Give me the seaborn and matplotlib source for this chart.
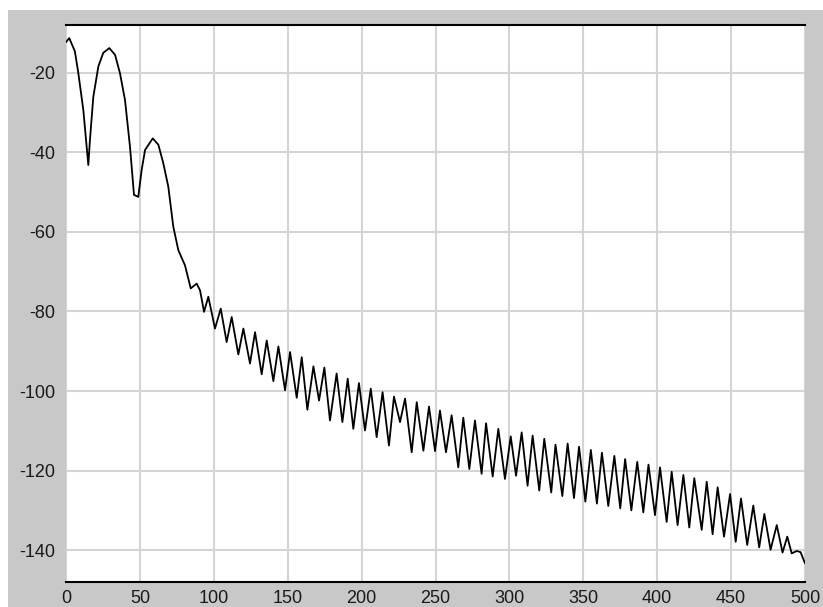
import matplotlib
matplotlib.use("Agg")
import matplotlib.pyplot as plt
import seaborn as sns
from matplotlib.patches import Rectangle

# ---- data ----
x_vals = [0, 2.2, 6, 8.3, 11.7, 14, 15.1, 16.2, 18.5, 21.9, 25.2, 29.3, 33.2, 36.5, 39.9,
          43.3, 46, 48.9, 51.2, 53.5, 58.7, 62.5, 65.8, 69.2, 72.6, 76, 80.5, 84.4, 88.4,
          90.7, 93.4, 96.3, 100.8, 104.7, 108.7, 112.1, 116.6, 120, 124.5, 127.9, 132.4,
          135.8, 140.3, 143.7, 148.2, 151.6, 156.1, 159.5, 163.3, 167.4, 171.2, 174.8,
          178.6, 183.1, 187, 190.6, 194.4, 198.2, 202.3, 206.2, 210.2, 214.2, 218.5, 221.9,
          226, 229.4, 233.9, 237.3, 241.8, 245.6, 249.7, 253, 257.1, 260.9, 265.4, 268.8,
          272.9, 276.7, 281.2, 284.2, 288.7, 292.5, 297, 300.9, 304.5, 308.3, 312.3, 315.7,
          320.2, 323.6, 328.3, 331.2, 335.8, 339.4, 343.7, 347.1, 351.4, 355.1, 359.2,
          362.6, 366.9, 371, 375, 378.3, 382.5, 386.5, 390.6, 394.1, 398.5, 401.9, 406.4,
          409.8, 413.8, 417.7, 421.7, 425.1, 430.1, 433.5, 437.5, 440.9, 445.2, 449.3,
          453.1, 456.7, 460.9, 465, 469, 472.5, 476.7, 480.9, 484.8, 488, 491, 494.4,
          497, 500]
y_vals = [-12.3, -11.3, -14.6, -20, -29.3, -38.6, -43.2, -36.9, -26, -18.4, -15, -13.8,
          -15.5, -20.1, -26.8, -38.6, -50.7, -51.2, -44.4, -39.4, -36.5, -38.1, -42.7,
          -48.6, -58.7, -64.6, -68.4, -74.2, -73, -74.7, -80.1, -76.3, -84.3, -79.3,
          -87.7, -81.4, -90.8, -84.3, -93.1, -85.2, -95.8, -87.3, -97.5, -88.8, -99.8,
          -90.2, -101.7, -91.5, -104.7, -93.8, -102.4, -94.1, -107.4, -95.6, -107.8,
          -96.9, -109.5, -98, -109.9, -99.4, -111.6, -100.3, -113.7, -101.4, -107.8,
          -101.9, -115.4, -102.8, -115, -103.9, -115.1, -104.9, -115.4, -106.1, -119.2,
          -106.7, -119.6, -107.4, -120.8, -108.1, -121.5, -109.5, -122.1, -111.4, -121.3,
          -110.4, -123.8, -111.2, -125, -112, -125.5, -113.5, -126.4, -113.2, -126.9,
          -114, -127.8, -114.8, -128.3, -115.5, -128.9, -116.3, -129.5, -117.1, -130,
          -117.8, -130.5, -118.5, -131.2, -119.2, -132.9, -120.3, -133.7, -121.1, -134.3,
          -121.9, -134.9, -122.8, -136, -124.2, -136.6, -125.9, -137.9, -127, -138.7,
          -128.8, -139.3, -130.9, -139.9, -133.7, -140.6, -136.6, -140.8, -140.2, -140.5,
          -143.3]
x_ticks = [0, 50, 100, 150, 200, 250, 300, 350, 400, 450, 500]
y_ticks = [-20, -40, -60, -80, -100, -120, -140]

sns.set_style("white")
plt.rcParams['font.family'] = ['Liberation Sans', 'DejaVu Sans']

W, H = 823, 607
fig = plt.figure(figsize=(W / 100, H / 100), dpi=100, facecolor="white")
bg = Rectangle((8 / W, 0), 1 - 8 / W, 1 - 10 / H,
               transform=fig.transFigure, facecolor="#c8c8c8",
               edgecolor="none", zorder=-10)
fig.add_artist(bg)

ax = fig.add_axes([66 / W, 1 - 582 / H, (805 - 66) / W, (582 - 25) / H])
ax.set_zorder(1)
ax.set_facecolor("white")

sns.lineplot(x=x_vals, y=y_vals, color="black", linewidth=1.3, ax=ax,
             estimator=None, sort=False)

ax.set_xlim(0, 500)
ax.set_ylim(-148, -8)
ax.set_xticks(x_ticks)
ax.set_yticks(y_ticks)
ax.set_xticklabels([str(t) for t in x_ticks])
ax.set_yticklabels([str(t) for t in y_ticks])
ax.grid(True, color="#d4d4d4", linewidth=1.5)
ax.set_axisbelow(True)
ax.tick_params(axis="both", length=0, labelsize=13, labelcolor="#1a1a1a")
ax.tick_params(axis="y", pad=8)
ax.tick_params(axis="x", pad=6)

for side in ["left", "right"]:
    ax.spines[side].set_visible(False)
for side in ["top", "bottom"]:
    ax.spines[side].set_visible(True)
    ax.spines[side].set_color("black")
    ax.spines[side].set_linewidth(1.5)

fig.savefig("out.png", dpi=100, facecolor="white")
